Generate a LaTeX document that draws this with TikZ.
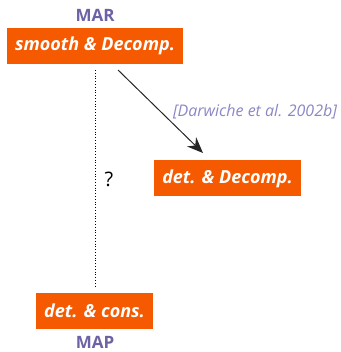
\documentclass[tikz,border=0pt]{standalone}
\usepackage{fontspec}
\setmainfont{Open Sans}
\usetikzlibrary{arrows.meta}
\definecolor{boxorange}{HTML}{F65A00}
\definecolor{lblpurple}{HTML}{6C62A6}
\definecolor{citepurple}{HTML}{8B87C4}
\begin{document}
\begin{tikzpicture}[x=1pt,y=1pt,
  obox/.style={fill=boxorange, text=white, font=\bfseries\itshape\fontsize{18}{20}\selectfont, minimum height=36pt, inner xsep=4pt},
  tag/.style={text=lblpurple, font=\bfseries\fontsize{17}{19}\selectfont}]
\useasboundingbox (0,0) rectangle (340,352);
\node[obox, minimum width=176pt] (mar) at (95,306) {smooth \& Decomp.};
\node[obox, minimum width=147pt] (dd) at (227.5,173.5) {det. \& Decomp.};
\node[obox, minimum width=117pt] (map) at (94.5,41) {det. \& cons.};
\node[tag] (martag) at (95,337) {MAR};
\node[tag] (maptag) at (95,10) {MAP};
\coordinate (dtop) at (95,282);
\coordinate (dbot) at (95,65);
\draw[dotted, thick] (dtop) -- (dbot);
\node[font=\fontsize{20}{22}\selectfont] (q) at (109,173) {?};
\coordinate (astart) at (118,282);
\coordinate (aend) at (203,199);
\draw[-{Stealth[length=16pt,width=13pt]}, black!85, line width=1pt] (astart) -- (aend);
\node[text=citepurple, font=\itshape\fontsize{16}{18}\selectfont] (cite) at (255,240) {[Darwiche et al. 2002b]};
\end{tikzpicture}
\end{document}
